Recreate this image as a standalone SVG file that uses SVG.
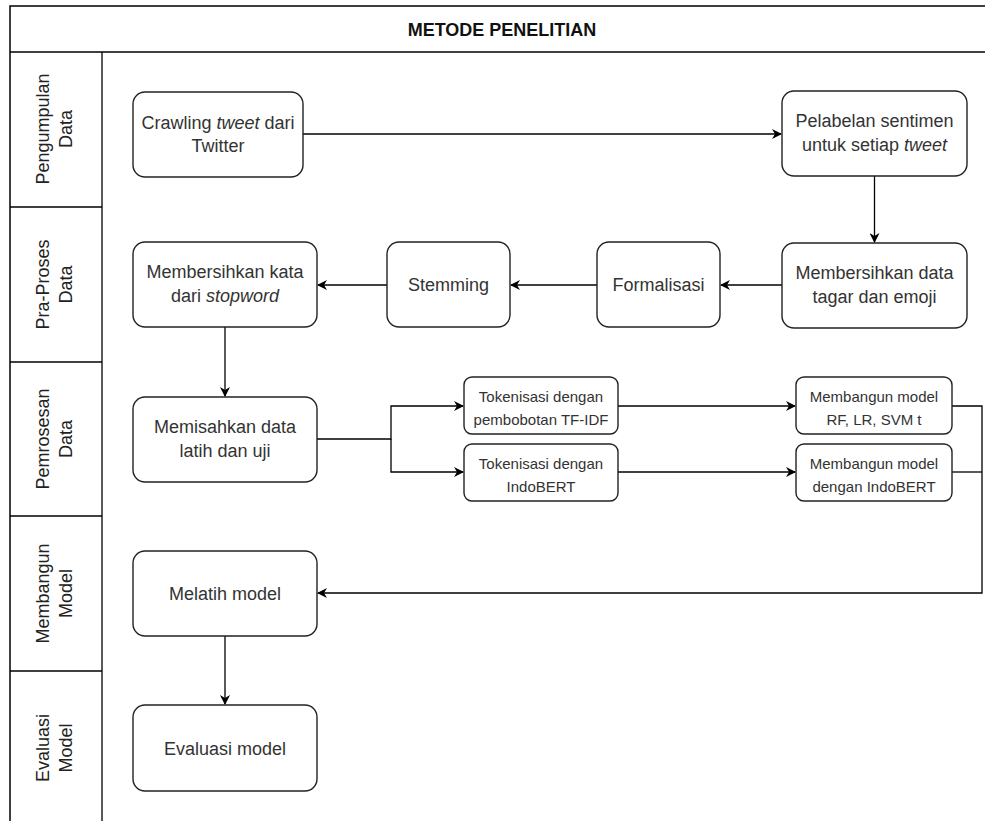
<svg xmlns="http://www.w3.org/2000/svg" width="985" height="821" viewBox="0 0 985 821">
<defs>
<marker id="ah" viewBox="0 0 10 10" refX="9" refY="5" markerWidth="10" markerHeight="10" markerUnits="userSpaceOnUse" orient="auto">
<path d="M0,0 L10,5 L0,10 L3,5 Z" fill="#000"/>
</marker>
<style>
.frame{fill:none;stroke:#000;stroke-width:1.5}
.lane{fill:none;stroke:#000;stroke-width:1.3}
.box{fill:#fff;stroke:#222;stroke-width:1.4}
.t{font-family:"Liberation Sans",Arial,sans-serif;font-size:18px;fill:#333;text-anchor:middle}
.s{font-family:"Liberation Sans",Arial,sans-serif;font-size:15px;fill:#333;text-anchor:middle}
.lt{font-family:"Liberation Sans",Arial,sans-serif;font-size:18px;fill:#222;text-anchor:middle}
.title{font-family:"Liberation Sans",Arial,sans-serif;font-size:18px;font-weight:bold;fill:#111;text-anchor:middle}
.c{fill:none;stroke:#000;stroke-width:1.3}
</style>
</defs>
<rect x="0" y="0" width="985" height="821" fill="#fff"/>
<g id="frame">
<polyline class="frame" points="10,830 10,6 986,6"/>
<line class="frame" x1="10" y1="52" x2="986" y2="52"/>
<text class="title" x="502" y="36">METODE PENELITIAN</text>
</g>
<g id="lanes">
<line class="lane" x1="102" y1="52" x2="102" y2="830"/>
<line class="lane" x1="10" y1="207" x2="102" y2="207"/>
<line class="lane" x1="10" y1="362" x2="102" y2="362"/>
<line class="lane" x1="10" y1="516" x2="102" y2="516"/>
<line class="lane" x1="10" y1="671" x2="102" y2="671"/>
<text class="lt" transform="translate(56,129) rotate(-90)"><tspan x="0" y="-7">Pengumpulan</tspan><tspan x="0" y="16">Data</tspan></text>
<text class="lt" transform="translate(56,284.5) rotate(-90)"><tspan x="0" y="-7">Pra-Proses</tspan><tspan x="0" y="16">Data</tspan></text>
<text class="lt" transform="translate(56,439) rotate(-90)"><tspan x="0" y="-7">Pemrosesan</tspan><tspan x="0" y="16">Data</tspan></text>
<text class="lt" transform="translate(56,593.5) rotate(-90)"><tspan x="0" y="-7">Membangun</tspan><tspan x="0" y="16">Model</tspan></text>
<text class="lt" transform="translate(56,748) rotate(-90)"><tspan x="0" y="-7">Evaluasi</tspan><tspan x="0" y="16">Model</tspan></text>
</g>
<g id="connectors">
<line class="c" x1="303" y1="134" x2="781" y2="134" marker-end="url(#ah)"/>
<line class="c" x1="874.5" y1="176" x2="874.5" y2="242" marker-end="url(#ah)"/>
<line class="c" x1="782" y1="285" x2="721" y2="285" marker-end="url(#ah)"/>
<line class="c" x1="597" y1="285" x2="511" y2="285" marker-end="url(#ah)"/>
<line class="c" x1="387" y1="285" x2="318" y2="285" marker-end="url(#ah)"/>
<line class="c" x1="225" y1="327" x2="225" y2="396" marker-end="url(#ah)"/>
<polyline class="c" points="317,439 391,439 391,406 463,406" marker-end="url(#ah)"/>
<polyline class="c" points="391,439 391,472 463,472" marker-end="url(#ah)"/>
<line class="c" x1="618" y1="406" x2="795" y2="406" marker-end="url(#ah)"/>
<line class="c" x1="618" y1="472" x2="795" y2="472" marker-end="url(#ah)"/>
<polyline class="c" points="952,406 982,406 982,593 318,593" marker-end="url(#ah)"/>
<line class="c" x1="952" y1="472" x2="982" y2="472"/>
<line class="c" x1="225" y1="636" x2="225" y2="704" marker-end="url(#ah)"/>
</g>
<g id="n-crawling">
<rect class="box" x="133" y="92" width="170" height="85" rx="12"/>
<text class="t" x="218" y="128.5">Crawling <tspan font-style="italic">tweet</tspan> dari</text>
<text class="t" x="218" y="151.5">Twitter</text>
</g>
<g id="n-pelabelan">
<rect class="box" x="782" y="91" width="185" height="85" rx="12"/>
<text class="t" x="874.5" y="127">Pelabelan sentimen</text>
<text class="t" x="874.5" y="150.5">untuk setiap <tspan font-style="italic">tweet</tspan></text>
</g>
<g id="n-bersih-data">
<rect class="box" x="782" y="243" width="185" height="85" rx="12"/>
<text class="t" x="874.5" y="279">Membersihkan data</text>
<text class="t" x="874.5" y="302.5">tagar dan emoji</text>
</g>
<g id="n-formalisasi">
<rect class="box" x="597" y="242" width="123" height="85" rx="12"/>
<text class="t" x="658.5" y="291">Formalisasi</text>
</g>
<g id="n-stemming">
<rect class="box" x="387" y="242" width="123" height="85" rx="12"/>
<text class="t" x="448.5" y="291">Stemming</text>
</g>
<g id="n-stopword">
<rect class="box" x="133" y="242" width="184" height="85" rx="12"/>
<text class="t" x="225" y="278">Membersihkan kata</text>
<text class="t" x="225" y="301.5">dari <tspan font-style="italic">stopword</tspan></text>
</g>
<g id="n-memisahkan">
<rect class="box" x="133" y="397" width="184" height="85" rx="12"/>
<text class="t" x="225" y="433">Memisahkan data</text>
<text class="t" x="225" y="456.5">latih dan uji</text>
</g>
<g id="n-tok-tfidf">
<rect class="box" x="464" y="377" width="154" height="57" rx="8"/>
<text class="s" x="541" y="401.5">Tokenisasi dengan</text>
<text class="s" x="541" y="424.5">pembobotan TF-IDF</text>
</g>
<g id="n-tok-bert">
<rect class="box" x="464" y="444" width="154" height="57" rx="8"/>
<text class="s" x="541" y="468.5">Tokenisasi dengan</text>
<text class="s" x="541" y="491.5">IndoBERT</text>
</g>
<g id="n-model-ml">
<rect class="box" x="796" y="377" width="156" height="57" rx="8"/>
<text class="s" x="874" y="401.5">Membangun model</text>
<text class="s" x="874" y="424.5">RF, LR, SVM t</text>
</g>
<g id="n-model-bert">
<rect class="box" x="796" y="444" width="156" height="57" rx="8"/>
<text class="s" x="874" y="468.5">Membangun model</text>
<text class="s" x="874" y="491.5">dengan IndoBERT</text>
</g>
<g id="n-melatih">
<rect class="box" x="133" y="551" width="184" height="85" rx="12"/>
<text class="t" x="225" y="600">Melatih model</text>
</g>
<g id="n-evaluasi">
<rect class="box" x="133" y="705" width="184" height="86" rx="12"/>
<text class="t" x="225" y="754.5">Evaluasi model</text>
</g>
</svg>
